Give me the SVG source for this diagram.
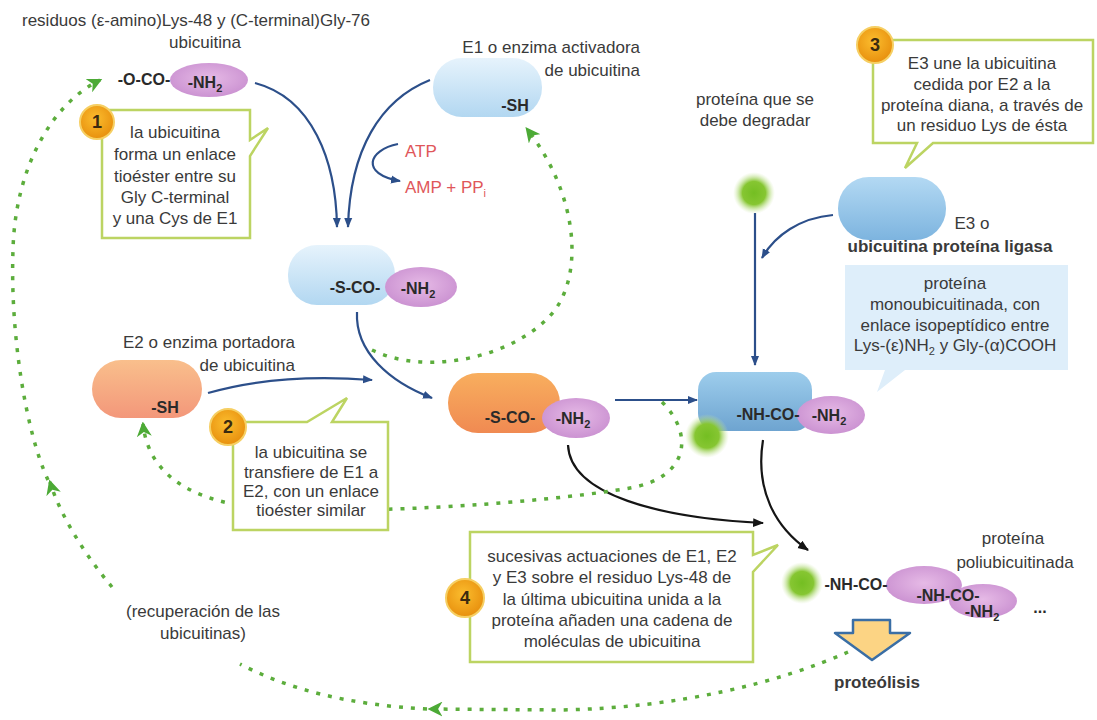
<svg xmlns="http://www.w3.org/2000/svg" width="1097" height="720" viewBox="0 0 1097 720">
<style>
.t{font-family:"Liberation Sans",Arial,sans-serif;font-size:17px;fill:#3a3a3a}
.c{text-anchor:middle}
.e{text-anchor:end}
.f{font-family:"Liberation Sans",Arial,sans-serif;font-size:16px;font-weight:bold;fill:#2a2a2a;text-anchor:middle}
.red{fill:#e0565a}
.num{font-family:"Liberation Sans",Arial,sans-serif;font-size:18px;font-weight:bold;fill:#3a2a10;text-anchor:middle}
.co{fill:#fff;stroke:#bcd462;stroke-width:2.5;stroke-linejoin:miter}
.nc{fill:url(#gNum);stroke:#f6cf63;stroke-width:2}
.ba{fill:none;stroke:#2c4f8a;stroke-width:2.2;marker-end:url(#ab)}
.ka{fill:none;stroke:#151515;stroke-width:2.2;marker-end:url(#ak)}
.gd{fill:none;stroke:#5cad3c;stroke-width:3.5;stroke-dasharray:4 8}
.ge{marker-end:url(#ag)}
.pur{fill:url(#gPur)}
.ball{fill:url(#gGreen)}
</style>
<defs>
<linearGradient id="gE1" x1="0" y1="0" x2="0" y2="1"><stop offset="0" stop-color="#e6f3fc"/><stop offset="1" stop-color="#b2d7f1"/></linearGradient>
<linearGradient id="gE3" x1="0" y1="0" x2="0" y2="1"><stop offset="0" stop-color="#b3d9f3"/><stop offset="1" stop-color="#7db4df"/></linearGradient>
<linearGradient id="gMono" x1="0" y1="0" x2="0" y2="1"><stop offset="0" stop-color="#9dcdec"/><stop offset="1" stop-color="#6ea4d0"/></linearGradient>
<linearGradient id="gE2" x1="0" y1="0" x2="0" y2="1"><stop offset="0" stop-color="#f9bf8c"/><stop offset="1" stop-color="#f3977a"/></linearGradient>
<linearGradient id="gOr" x1="0" y1="0" x2="0" y2="1"><stop offset="0" stop-color="#f8ae5e"/><stop offset="1" stop-color="#f08a52"/></linearGradient>
<radialGradient id="gPur" cx="0.5" cy="0.45" r="0.6"><stop offset="0" stop-color="#e6bae6"/><stop offset="1" stop-color="#c98fd0"/></radialGradient>
<radialGradient id="gGreen"><stop offset="0" stop-color="#74be22"/><stop offset="0.55" stop-color="#86c632"/><stop offset="1" stop-color="#cfe8a8" stop-opacity="0"/></radialGradient>
<radialGradient id="gNum" cx="0.45" cy="0.4" r="0.6"><stop offset="0" stop-color="#fbbd2e"/><stop offset="1" stop-color="#e8900e"/></radialGradient>
<marker id="ab" viewBox="0 0 10 10" refX="9" refY="5" markerWidth="10" markerHeight="10" markerUnits="userSpaceOnUse" orient="auto"><path d="M0,1 L10,5 L0,9 Z" fill="#2c4f8a"/></marker>
<marker id="ak" viewBox="0 0 10 10" refX="9" refY="5" markerWidth="11" markerHeight="11" markerUnits="userSpaceOnUse" orient="auto"><path d="M0,1 L10,5 L0,9 Z" fill="#151515"/></marker>
<marker id="ag" viewBox="0 0 12 12" refX="10" refY="6" markerWidth="15" markerHeight="15" markerUnits="userSpaceOnUse" orient="auto"><path d="M0,0 L12,6 L0,12 L3.5,6 Z" fill="#4caa36"/></marker>
</defs>
<rect width="1097" height="720" fill="#fff"/>

<g id="connectors">
<path class="ba" d="M255,83 C312,98 336,160 337,227"/>
<path class="ba" d="M430,80 C380,100 350,150 348,227"/>
<path class="ba" d="M398,144 C368,150 360,174 400,181"/>
<path class="ba" d="M357,312 C355,352 390,382 432,398"/>
<path class="ba" d="M208,393 C260,378 320,376 372,380"/>
<path class="ba" d="M615,400 L697,400"/>
<path class="ba" d="M755,213 L755,365"/>
<path class="ba" d="M833,215 C800,218 775,235 762,258"/>
<path class="ka" d="M568,445 C570,495 660,518 763,523"/>
<path class="ka" d="M763,440 C755,490 775,527 808,550"/>
<path class="gd ge" d="M372,350 C430,378 520,355 555,310 C585,268 575,190 527,129"/>
<path class="gd ge" d="M662,402 C695,435 688,478 630,488 C560,500 420,512 300,510 C220,510 150,490 143,424"/>
<path class="gd ge" d="M848,652 C780,682 680,708 560,710 L430,709"/>
<path class="gd" d="M427,709 C350,705 290,690 240,664"/>
<path class="gd ge" d="M112,587 C85,555 60,515 50,482"/>
<path class="gd ge" d="M48,480 C25,430 10,330 13,250 C15,170 50,105 100,80"/>
</g>

<g id="title">
<text class="t" x="22" y="26" font-size="17.8">residuos (ε-amino)Lys-48 y (C-terminal)Gly-76</text>
<text class="t c" x="205" y="48">ubicuitina</text>
</g>

<g id="ubicuitina">
<ellipse class="pur" cx="209" cy="80" rx="39" ry="17"/>
<text class="f" x="144" y="85">-O-CO-</text>
<text class="f" x="205" y="88">-NH<tspan font-size="11" dy="4">2</tspan></text>
</g>

<g id="E1">
<rect x="433" y="58" width="109" height="59" rx="29" fill="url(#gE1)"/>
<text class="t e" x="640" y="53">E1 o enzima activadora</text>
<text class="t e" x="640" y="76">de ubicuitina</text>
<text class="f" x="515" y="111">-SH</text>
</g>

<g id="atp">
<text class="t red" x="405" y="157">ATP</text>
<text class="t red" x="405" y="193">AMP + PP<tspan font-size="11" dy="4">i</tspan></text>
</g>

<g id="E1-complex">
<rect x="288" y="245" width="107" height="60" rx="29" fill="url(#gE1)"/>
<ellipse class="pur" cx="421" cy="287" rx="36" ry="20"/>
<text class="f" x="355" y="293">-S-CO-</text>
<text class="f" x="418" y="294">-NH<tspan font-size="11" dy="4">2</tspan></text>
</g>

<g id="E2">
<rect x="92" y="360" width="110" height="58" rx="29" fill="url(#gE2)"/>
<text class="t e" x="295" y="348">E2 o enzima portadora</text>
<text class="t e" x="295" y="371">de ubicuitina</text>
<text class="f" x="165" y="413">-SH</text>
</g>

<g id="E2-complex">
<rect x="448" y="373" width="112" height="60" rx="30" fill="url(#gOr)"/>
<ellipse class="pur" cx="576" cy="418" rx="34" ry="20"/>
<text class="f" x="510" y="423">-S-CO-</text>
<text class="f" x="573" y="424">-NH<tspan font-size="11" dy="4">2</tspan></text>
</g>

<g id="protein">
<text class="t c" x="755" y="105">proteína que se</text>
<text class="t c" x="755" y="126">debe degradar</text>
<circle class="ball" cx="754" cy="193" r="21"/>
</g>

<g id="E3">
<rect x="838" y="177" width="108" height="63" rx="31" fill="url(#gE3)"/>
<text class="t c" x="972" y="229">E3 o</text>
<text class="t c" x="950" y="252" font-weight="bold" font-size="16">ubicuitina proteína ligasa</text>
</g>

<g id="mono-info">
<path d="M845,265 H1068 V370 H905 L877,392 L885,370 H845 Z" fill="#deeefa"/>
<text class="t c" x="955" y="289">proteína</text>
<text class="t c" x="955" y="310">monoubicuitinada, con</text>
<text class="t c" x="955" y="331">enlace isopeptídico entre</text>
<text class="t c" x="955" y="351">Lys-(ε)NH<tspan font-size="11" dy="4">2</tspan><tspan dy="-4"> y Gly-(α)COOH</tspan></text>
</g>

<g id="mono-complex">
<rect x="698" y="372" width="114" height="59" rx="18" fill="url(#gMono)"/>
<ellipse class="pur" cx="831" cy="415" rx="34" ry="19"/>
<circle class="ball" cx="707" cy="436" r="22"/>
<text class="f" x="768" y="420">-NH-CO-</text>
<text class="f" x="829" y="421">-NH<tspan font-size="11" dy="4">2</tspan></text>
</g>

<g id="poly">
<text class="t c" x="1013" y="544">proteína</text>
<text class="t c" x="1015" y="568">poliubicuitinada</text>
<circle class="ball" cx="802" cy="583" r="21"/>
<ellipse class="pur" cx="983" cy="601" rx="34" ry="17"/>
<ellipse class="pur" cx="924" cy="585" rx="38" ry="19"/>
<text class="f" x="856" y="590">-NH-CO-</text>
<text class="f" x="948" y="601">-NH-CO-</text>
<text class="f" x="982" y="617">-NH<tspan font-size="11" dy="4">2</tspan></text>
<text class="f" x="1040" y="613">...</text>
</g>

<g id="proteolisis">
<path d="M853,620 H890 V633 H910 L872,660 L835,633 H853 Z" fill="#fcd484" stroke="#3a6ea5" stroke-width="2.5" stroke-linejoin="round"/>
<text class="t c" x="877" y="688" font-weight="bold" font-size="16">proteólisis</text>
</g>

<g id="recuperacion">
<text class="t c" x="203" y="617">(recuperación de las</text>
<text class="t c" x="203" y="639">ubicuitinas)</text>
</g>

<g id="callout1">
<path class="co" d="M102,110 H250 V140 L268,128 L250,156 V238 H102 Z"/>
<circle class="nc" cx="97" cy="122" r="17"/>
<text class="num" x="97" y="128">1</text>
<text class="t c" x="175" y="138">la ubicuitina</text>
<text class="t c" x="175" y="160">forma un enlace</text>
<text class="t c" x="175" y="182">tioéster entre su</text>
<text class="t c" x="175" y="203">Gly C-terminal</text>
<text class="t c" x="175" y="224">y una Cys de E1</text>
</g>

<g id="callout2">
<path class="co" d="M233,422 H307 L347,398 L332,422 H388 V530 H233 Z"/>
<circle class="nc" cx="228" cy="427" r="18"/>
<text class="num" x="228" y="433">2</text>
<text class="t c" x="311" y="458">la ubicuitina se</text>
<text class="t c" x="311" y="478">transfiere de E1 a</text>
<text class="t c" x="311" y="497">E2, con un enlace</text>
<text class="t c" x="311" y="516">tioéster similar</text>
</g>

<g id="callout3">
<path class="co" d="M873,40 H1093 V143 H933 L905,168 L917,143 H873 Z"/>
<circle class="nc" cx="875" cy="45" r="18"/>
<text class="num" x="875" y="51">3</text>
<text class="t c" x="982" y="69">E3 une la ubicuitina</text>
<text class="t c" x="982" y="90">cedida por E2 a la</text>
<text class="t c" x="982" y="111">proteína diana, a través de</text>
<text class="t c" x="982" y="131">un residuo Lys de ésta</text>
</g>

<g id="callout4">
<path class="co" d="M470,532 H753 V555 L778,545 L753,572 V662 H470 Z"/>
<circle class="nc" cx="465" cy="598" r="19"/>
<text class="num" x="465" y="604">4</text>
<text class="t c" x="612" y="562">sucesivas actuaciones de E1, E2</text>
<text class="t c" x="612" y="583">y E3 sobre el residuo Lys-48 de</text>
<text class="t c" x="612" y="605">la última ubicuitina unida a la</text>
<text class="t c" x="612" y="626">proteína añaden una cadena de</text>
<text class="t c" x="612" y="647">moléculas de ubicuitina</text>
</g>
</svg>
